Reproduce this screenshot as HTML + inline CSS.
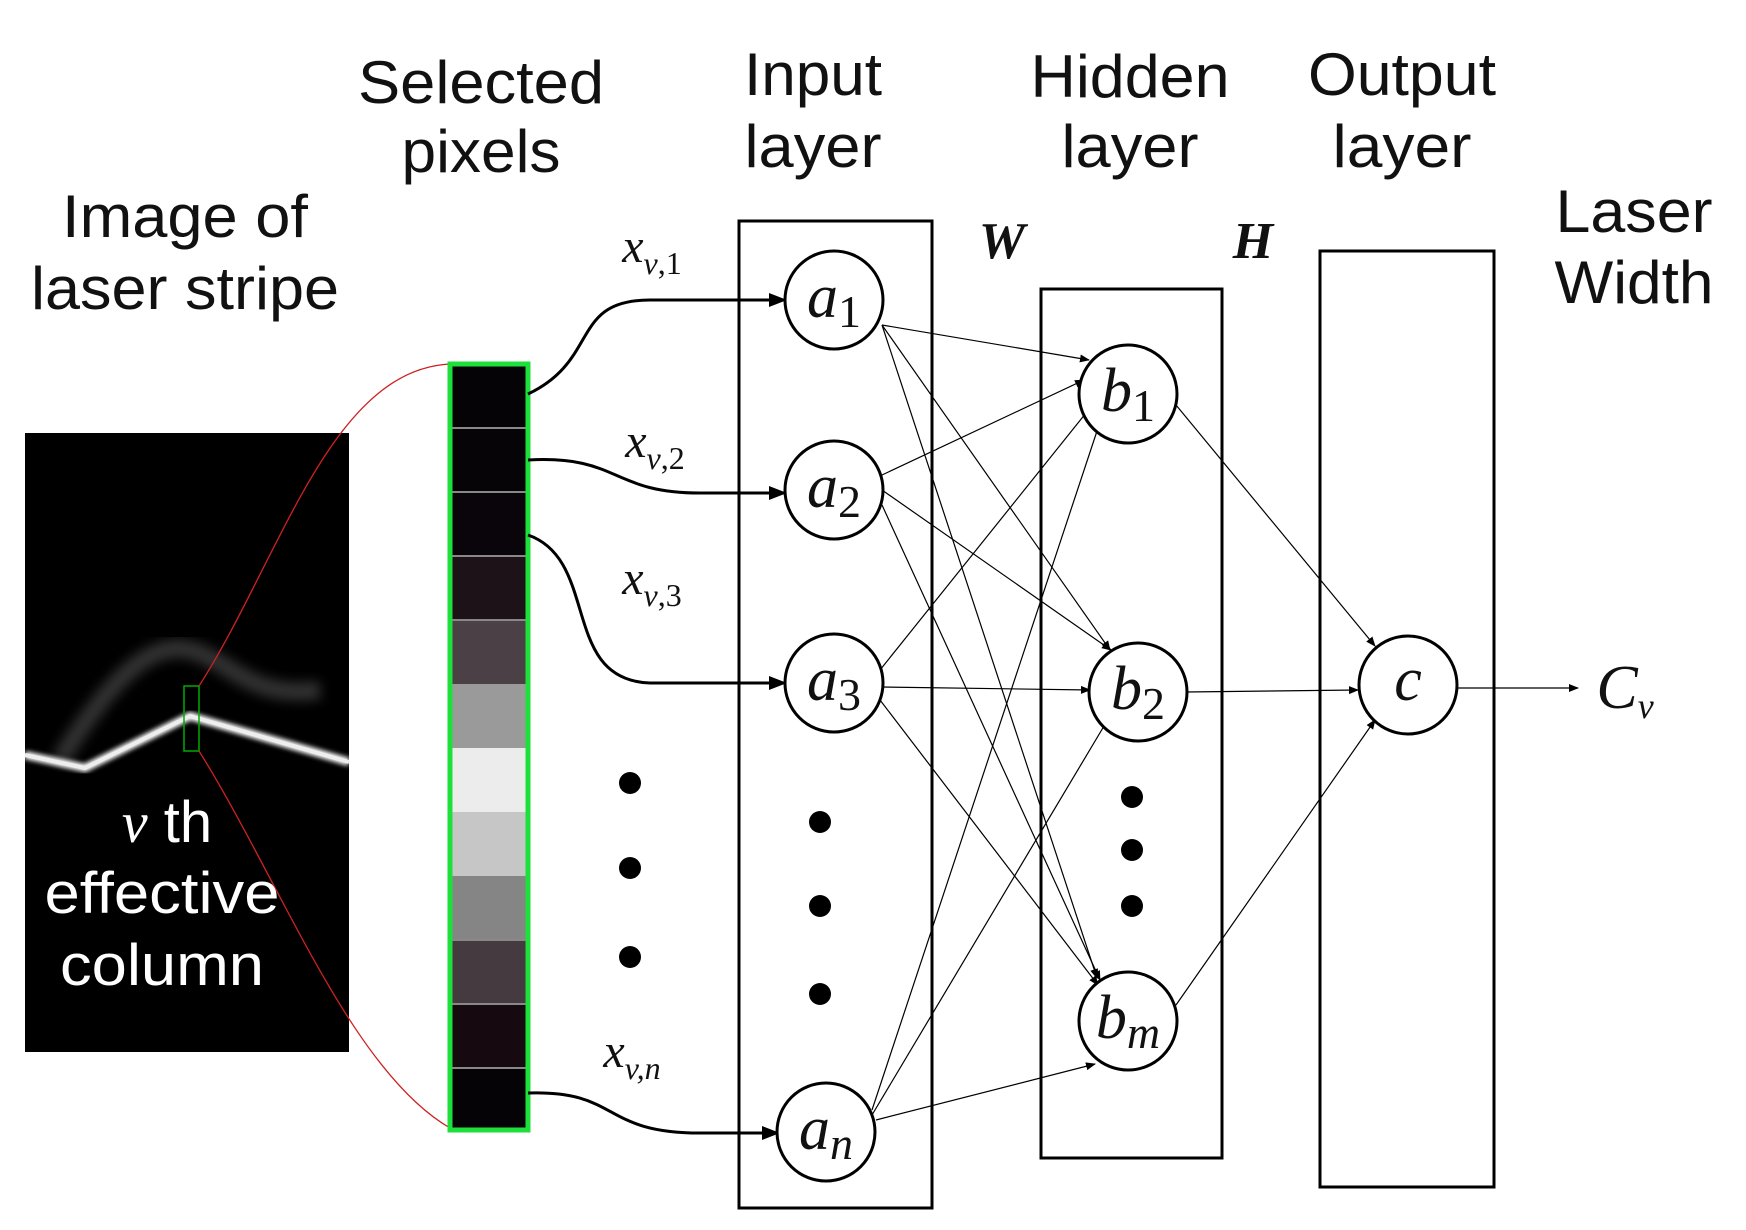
<!DOCTYPE html>
<html><head><meta charset="utf-8"><style>
html,body{margin:0;padding:0;background:#fff;}
svg{display:block;}
.s{font-family:"Liberation Sans",sans-serif;font-size:60px;fill:#111;text-anchor:middle;}
.m{font-family:"Liberation Serif",serif;font-style:italic;fill:#111;}
.u{font-style:normal;}
</style></head><body>
<svg width="1746" height="1230" viewBox="0 0 1746 1230" xmlns="http://www.w3.org/2000/svg">
<defs>
<marker id="ah" markerWidth="10" markerHeight="10" refX="9" refY="5" orient="auto" markerUnits="userSpaceOnUse"><path d="M0,1 L10,5 L0,9 z" fill="#000"/></marker>
<marker id="ab" markerWidth="18" markerHeight="16" refX="16" refY="8" orient="auto" markerUnits="userSpaceOnUse"><path d="M0,1 L18,8 L0,15 z" fill="#000"/></marker>
<filter id="bl"><feGaussianBlur stdDeviation="2.5"/></filter>
<filter id="bl2"><feGaussianBlur stdDeviation="6"/></filter>
</defs>

<!-- headings -->
<text class="s" x="481" y="103" textLength="246" lengthAdjust="spacingAndGlyphs">Selected</text>
<text class="s" x="481" y="172" textLength="159" lengthAdjust="spacingAndGlyphs">pixels</text>
<text class="s" x="813" y="95" textLength="138" lengthAdjust="spacingAndGlyphs">Input</text>
<text class="s" x="813" y="167" textLength="137" lengthAdjust="spacingAndGlyphs">layer</text>
<text class="s" x="1130" y="97" textLength="199" lengthAdjust="spacingAndGlyphs">Hidden</text>
<text class="s" x="1130" y="167" textLength="137" lengthAdjust="spacingAndGlyphs">layer</text>
<text class="s" x="1402" y="95" textLength="188" lengthAdjust="spacingAndGlyphs">Output</text>
<text class="s" x="1402" y="167" textLength="139" lengthAdjust="spacingAndGlyphs">layer</text>
<text class="s" x="1634" y="232" textLength="157" lengthAdjust="spacingAndGlyphs">Laser</text>
<text class="s" x="1634" y="303" textLength="159" lengthAdjust="spacingAndGlyphs">Width</text>
<text class="s" x="185" y="237" textLength="246" lengthAdjust="spacingAndGlyphs">Image of</text>
<text class="s" x="185" y="309" textLength="308" lengthAdjust="spacingAndGlyphs">laser stripe</text>

<!-- laser image -->
<rect x="25" y="433" width="324" height="619" fill="#000"/>
<path d="M60,760 C110,680 150,640 190,650 C230,660 250,700 320,690" stroke="#555" stroke-width="18" fill="none" filter="url(#bl2)" opacity="0.6"/>
<polyline points="25,755 85,768 190,716 349,762" stroke="#fff" stroke-width="8" fill="none" filter="url(#bl)"/>
<polyline points="25,755 85,768 190,716 349,762" stroke="#eee" stroke-width="4" fill="none"/>
<rect x="184" y="686" width="15" height="65" fill="none" stroke="#0a0" stroke-width="1.5"/>
<path d="M199,686 C280,560 330,370 450,364" stroke="#c22" stroke-width="1.3" fill="none"/>
<path d="M199,751 C280,880 350,1070 450,1128" stroke="#c22" stroke-width="1.3" fill="none"/>
<text x="167" y="842" font-family="Liberation Sans,sans-serif" font-size="58" fill="#fff" text-anchor="middle"><tspan font-style="italic" font-family="Liberation Serif,serif">v</tspan> th</text>
<text x="162" y="913" font-family="Liberation Sans,sans-serif" font-size="58" fill="#fff" text-anchor="middle" textLength="235" lengthAdjust="spacingAndGlyphs">effective</text>
<text x="162" y="985" font-family="Liberation Sans,sans-serif" font-size="58" fill="#fff" text-anchor="middle" textLength="204" lengthAdjust="spacingAndGlyphs">column</text>

<!-- pixel column -->
<g>
<rect x="450" y="364" width="78" height="64" fill="#050305"/>
<rect x="450" y="428" width="78" height="64" fill="#070407"/>
<rect x="450" y="492" width="78" height="64" fill="#0a050a"/>
<rect x="450" y="556" width="78" height="64" fill="#1e1219"/>
<rect x="450" y="620" width="78" height="64" fill="#4b4046"/>
<rect x="450" y="684" width="78" height="64" fill="#9a9a9a"/>
<rect x="450" y="748" width="78" height="64" fill="#ececec"/>
<rect x="450" y="812" width="78" height="64" fill="#c6c6c6"/>
<rect x="450" y="876" width="78" height="64" fill="#858585"/>
<rect x="450" y="940" width="78" height="64" fill="#443a40"/>
<rect x="450" y="1004" width="78" height="64" fill="#16090f"/>
<rect x="450" y="1068" width="78" height="62" fill="#050305"/>
<g stroke="#888" stroke-width="2">
<line x1="452" y1="428" x2="526" y2="428"/><line x1="452" y1="492" x2="526" y2="492"/><line x1="452" y1="556" x2="526" y2="556"/><line x1="452" y1="620" x2="526" y2="620"/><line x1="452" y1="940" x2="526" y2="940"/><line x1="452" y1="1004" x2="526" y2="1004"/><line x1="452" y1="1068" x2="526" y2="1068"/>
</g>
<rect x="450" y="364" width="78" height="766" fill="none" stroke="#1ee03a" stroke-width="5"/>
</g>

<!-- layer boxes -->
<rect x="739" y="221" width="193" height="987" fill="none" stroke="#000" stroke-width="3"/>
<rect x="1041" y="289" width="181" height="869" fill="none" stroke="#000" stroke-width="3"/>
<rect x="1320" y="251" width="174" height="936" fill="none" stroke="#000" stroke-width="3"/>
<text class="m" x="1002" y="258" font-size="52" font-weight="bold" text-anchor="middle">W</text>
<text class="m" x="1253" y="258" font-size="52" font-weight="bold" text-anchor="middle">H</text>

<!-- input curves -->
<g stroke="#000" stroke-width="3" fill="none" marker-end="url(#ab)">
<path d="M528,394 C600,360 570,300 650,300 L785,300"/>
<path d="M528,460 C620,455 610,493 700,493 L785,493"/>
<path d="M528,535 C600,560 560,680 650,683 L785,683"/>
<path d="M528,1093 C620,1090 600,1133 700,1133 L778,1133"/>
</g>
<text class="m" x="652" y="262" font-size="48" text-anchor="middle">x<tspan font-size="32" dy="12">v</tspan><tspan class="u" font-size="32">,1</tspan></text>
<text class="m" x="655" y="457" font-size="48" text-anchor="middle">x<tspan font-size="32" dy="12">v</tspan><tspan class="u" font-size="32">,2</tspan></text>
<text class="m" x="652" y="594" font-size="48" text-anchor="middle">x<tspan font-size="32" dy="12">v</tspan><tspan class="u" font-size="32">,3</tspan></text>
<text class="m" x="632" y="1067" font-size="48" text-anchor="middle">x<tspan font-size="32" dy="12">v,n</tspan></text>

<!-- dots -->
<g fill="#000">
<circle cx="630" cy="783" r="11"/><circle cx="630" cy="868" r="11"/><circle cx="630" cy="957" r="11"/>
<circle cx="820" cy="822" r="11"/><circle cx="820" cy="906" r="11"/><circle cx="820" cy="994" r="11"/>
<circle cx="1132" cy="797" r="11"/><circle cx="1132" cy="850" r="11"/><circle cx="1132" cy="906" r="11"/>
</g>

<!-- connections -->
<g stroke="#000" stroke-width="1.2" fill="none" marker-end="url(#ah)">
<line x1="882" y1="325" x2="1089" y2="360"/>
<line x1="882" y1="325" x2="1110" y2="650"/>
<line x1="882" y1="325" x2="1097" y2="978"/>
<line x1="882" y1="475" x2="1084" y2="380"/>
<line x1="882" y1="490" x2="1111" y2="650"/>
<line x1="882" y1="505" x2="1100" y2="980"/>
<line x1="880" y1="670" x2="1090" y2="408"/>
<line x1="882" y1="687" x2="1090" y2="690"/>
<line x1="880" y1="700" x2="1098" y2="985"/>
<line x1="872" y1="1110" x2="1100" y2="422"/>
<line x1="872" y1="1115" x2="1110" y2="716"/>
<line x1="876" y1="1120" x2="1095" y2="1064"/>
<line x1="1176" y1="405" x2="1375" y2="646"/>
<line x1="1186" y1="692" x2="1358" y2="690"/>
<line x1="1176" y1="1005" x2="1375" y2="720"/>
<line x1="1458" y1="688" x2="1578" y2="688"/>
</g>

<!-- nodes -->
<g stroke="#000" stroke-width="3" fill="#fff">
<circle cx="834" cy="300" r="49"/><circle cx="834" cy="490" r="49"/><circle cx="834" cy="683" r="49"/><circle cx="826" cy="1132" r="49"/>
<circle cx="1128" cy="394" r="49"/><circle cx="1138" cy="692" r="49"/><circle cx="1128" cy="1021" r="49"/>
<circle cx="1408" cy="685" r="49"/>
</g>
<g class="m" font-size="62" text-anchor="middle">
<text x="834" y="317">a<tspan class="u" font-size="46" dy="10">1</tspan></text>
<text x="834" y="507">a<tspan class="u" font-size="46" dy="10">2</tspan></text>
<text x="834" y="700">a<tspan class="u" font-size="46" dy="10">3</tspan></text>
<text x="826" y="1149">a<tspan font-size="46" dy="10">n</tspan></text>
<text x="1128" y="411">b<tspan class="u" font-size="46" dy="10">1</tspan></text>
<text x="1138" y="709">b<tspan class="u" font-size="46" dy="10">2</tspan></text>
<text x="1128" y="1038">b<tspan font-size="46" dy="10">m</tspan></text>
<text x="1408" y="700">c</text>
<text x="1625" y="708">C<tspan font-size="36" dy="10">v</tspan></text>
</g>
</svg>
</body></html>
